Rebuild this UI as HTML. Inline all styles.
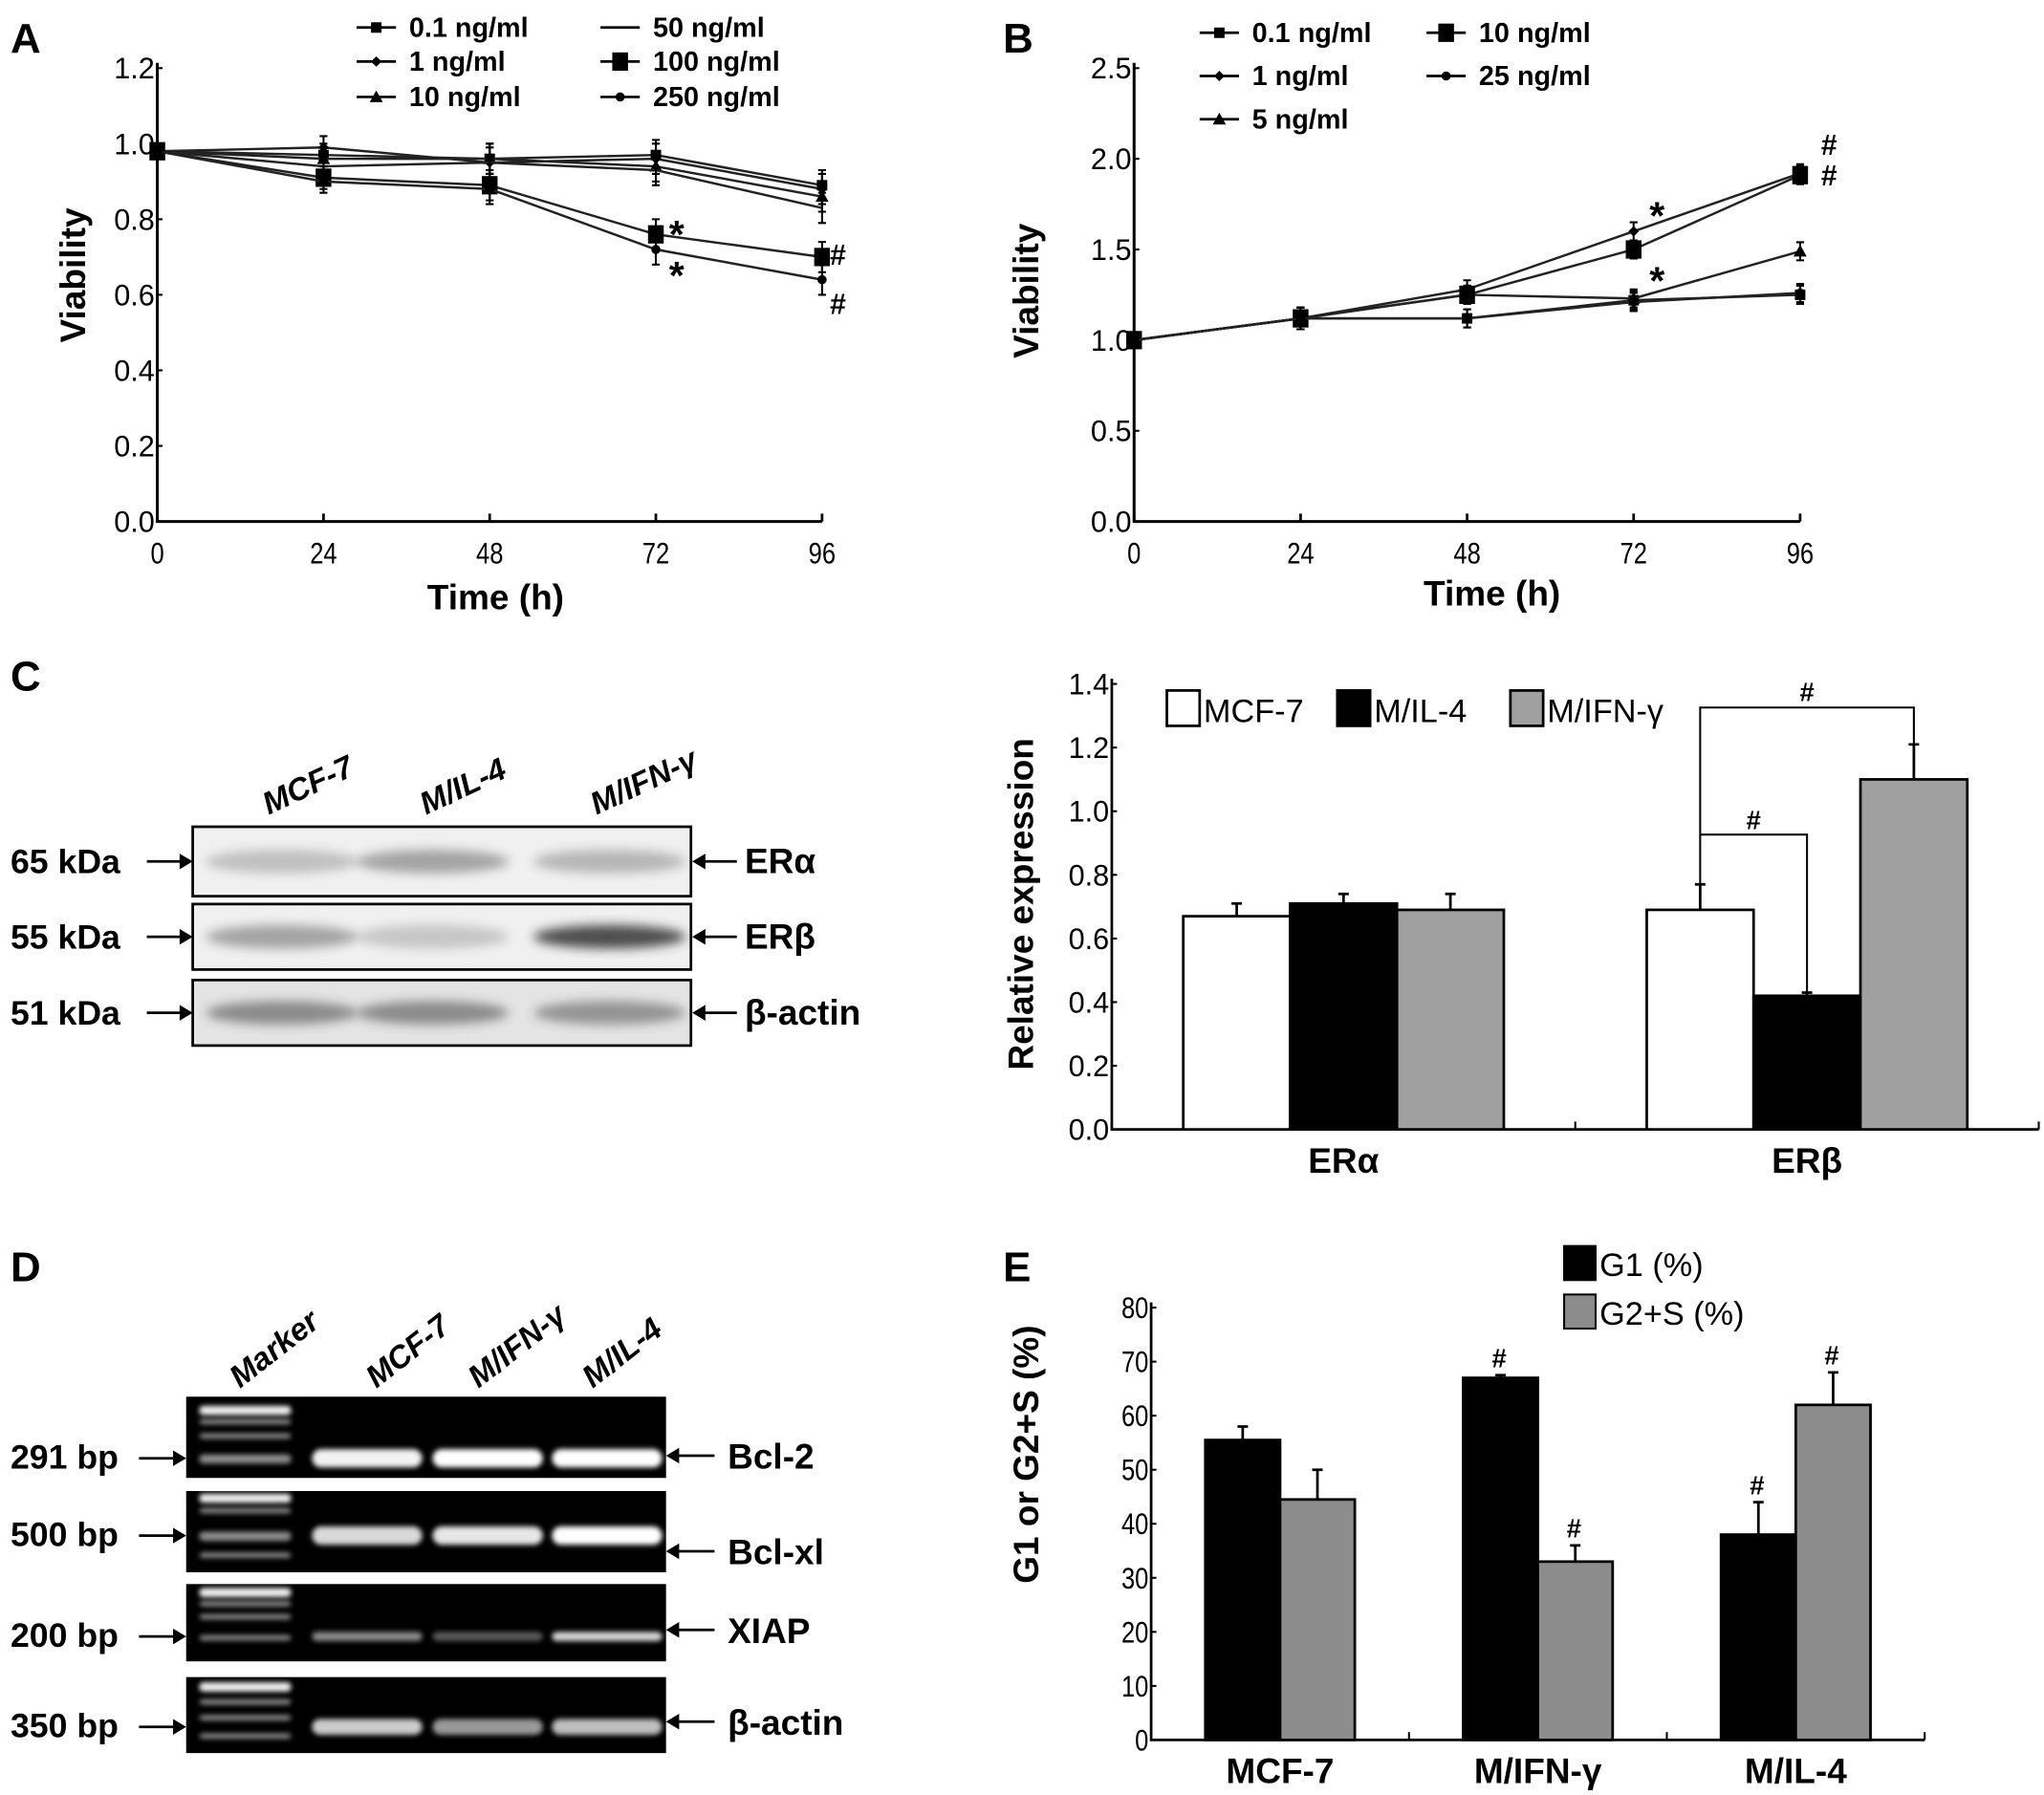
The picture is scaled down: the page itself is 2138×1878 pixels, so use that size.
<!DOCTYPE html>
<html><head><meta charset="utf-8"><style>
html,body{margin:0;padding:0;background:#fff}
svg{display:block}
text{font-family:"Liberation Sans",sans-serif;fill:#000}
.b{font-weight:bold}
</style></head><body>
<svg id="fig" width="2138" height="1878" viewBox="0 0 1559 1370" preserveAspectRatio="none" xmlns="http://www.w3.org/2000/svg">
<defs>
<filter id="blur3" x="-20%" y="-100%" width="140%" height="300%"><feGaussianBlur stdDeviation="4"/></filter>
<filter id="blur2" x="-20%" y="-100%" width="140%" height="300%"><feGaussianBlur stdDeviation="2"/></filter>
</defs>
<g id="gA"></g>
<g id="gB"></g>
<g id="gC"></g>
<g id="gC2"></g>
<g id="gD"></g>
<g id="gE"></g>
</svg>
<script>
// ---------- Panel A data ----------
const aTimes = [0, 24, 48, 72, 96];
const aYTicks = [0, 0.2, 0.4, 0.6, 0.8, 1.0, 1.2];
const aLabels = ["0.1 ng/ml", "1 ng/ml", "10 ng/ml", "50 ng/ml", "100 ng/ml", "250 ng/ml"];
const aS01 = [0.98, 0.97, 0.96, 0.97, 0.89];
const aS1 = [0.98, 0.99, 0.95, 0.96, 0.88];
const aS10 = [0.98, 0.96, 0.96, 0.94, 0.86];
const aS50 = [0.98, 0.94, 0.95, 0.93, 0.83];
const aS100 = [0.98, 0.91, 0.89, 0.76, 0.70];
const aS250 = [0.98, 0.90, 0.88, 0.72, 0.64];
const aErr = [0.02, 0.03, 0.04, 0.04, 0.04];
// ---------- Panel B data ----------
const bTimes = [0, 24, 48, 72, 96];
const bYTicks = [0, 0.5, 1.0, 1.5, 2.0, 2.5];
const bLabels = ["0.1 ng/ml", "1 ng/ml", "5 ng/ml", "10 ng/ml", "25 ng/ml"];
const bS01 = [1.0, 1.12, 1.12, 1.22, 1.25];
const bS1 = [1.0, 1.12, 1.28, 1.60, 1.92];
const bS5 = [1.0, 1.12, 1.25, 1.23, 1.49];
const bS10 = [1.0, 1.12, 1.25, 1.50, 1.91];
const bS25 = [1.0, 1.12, 1.12, 1.21, 1.26];
const bErr = [0.03, 0.06, 0.05, 0.05, 0.05];
// ---------- Panel C bar data ----------
const cGroups = ["ERα", "ERβ"];
const cSeries = ["MCF-7", "M/IL-4", "M/IFN-γ"];
const cYTicks = [0, 0.2, 0.4, 0.6, 0.8, 1.0, 1.2, 1.4];
const cMCF7 = [0.67, 0.69];
const cIL4 = [0.71, 0.42];
const cIFN = [0.69, 1.10];
const cMCF7Err = [0.04, 0.08];
const cIL4Err = [0.03, 0.01];
const cIFNErr = [0.05, 0.11];
// ---------- Panel E bar data ----------
const eGroups = ["MCF-7", "M/IFN-γ", "M/IL-4"];
const eYTicks = [0, 10, 20, 30, 40, 50, 60, 70, 80];
const eG1 = [55.5, 67, 38];
const eG2S = [44.5, 33, 62];
const eG1Err = [2.5, 0.5, 6];
const eG2SErr = [5.5, 3, 6];

const NS = "http://www.w3.org/2000/svg";
function el(parent, tag, attrs, txt) {
  const e = document.createElementNS(NS, tag);
  for (const k in attrs) e.setAttribute(k, attrs[k]);
  if (txt !== undefined) e.textContent = txt;
  parent.appendChild(e);
  return e;
}
function tickText(g, x, y, s, anchor, size) {
  const w = s.length * size * 0.45;
  const t = el(g, "text", {x: x, y: y, "font-size": size, "text-anchor": anchor || "end", textLength: w, lengthAdjust: "spacingAndGlyphs", "font-family": "Liberation Sans"}, s);
  
  
  return t;
}
function marker(g, type, x, y) {
  let m;
  if (type === "sq") m = el(g, "rect", {x: x - 4, y: y - 4, width: 8, height: 8, fill: "#000"});
  else if (type === "bigsq") m = el(g, "rect", {x: x - 6, y: y - 7, width: 12, height: 14, fill: "#000"});
  else if (type === "dia") m = el(g, "polygon", {points: `${x},${y-4} ${x+4},${y} ${x},${y+4} ${x-4},${y}`, fill: "#000"});
  else if (type === "tri") m = el(g, "polygon", {points: `${x},${y-5} ${x+5},${y+4} ${x-5},${y+4}`, fill: "#000"});
  else if (type === "circ") m = el(g, "circle", {cx: x, cy: y, r: 3.5, fill: "#000"});
  else return;
  
  
}

function lineChart(g, cfg) {
  const xS = v => cfg.x0 + (v - cfg.xmin) / (cfg.xmax - cfg.xmin) * (cfg.x1 - cfg.x0);
  const yS = v => cfg.y0 - (v - cfg.ymin) / (cfg.ymax - cfg.ymin) * (cfg.y0 - cfg.y1);
  const ax = el(g, "path", {d: `M${cfg.x0},${cfg.y1 - 4} V${cfg.y0} H${cfg.x1}`, stroke: "#000", "stroke-width": 2.2, fill: "none"});
  
  
  cfg.yticks.forEach(v => {
    el(g, "line", {x1: cfg.x0, x2: cfg.x0 + 4, y1: yS(v), y2: yS(v), stroke: "#000", "stroke-width": 1.5});
    tickText(g, cfg.x0 - 2, yS(v) + 8, v.toFixed(1), "end", 23);
  });
  cfg.times.forEach(v => {
    el(g, "line", {x1: xS(v), x2: xS(v), y1: cfg.y0, y2: cfg.y0 - 6, stroke: "#000", "stroke-width": 2});
    tickText(g, xS(v), cfg.y0 + 32, String(v), "middle", 23);
  });
  cfg.series.forEach((s, i) => {
    const sg = el(g, "g", {});
    
    
    const pts = s.map((v, k) => `${xS(cfg.times[k])},${yS(v)}`).join(" ");
    el(sg, "polyline", {points: pts, fill: "none", stroke: "#222", "stroke-width": 1.8});
    s.forEach((v, k) => {
      const x = xS(cfg.times[k]);
      const e = cfg.err[k];
      el(sg, "path", {d: `M${x},${yS(v - e)} V${yS(v + e)} M${x - 3},${yS(v - e)} H${x + 3} M${x - 3},${yS(v + e)} H${x + 3}`, stroke: "#000", "stroke-width": 1.5, fill: "none"});
      marker(sg, cfg.markers[i], x, yS(v));
    });
  });
  return {xS, yS};
}
function legendEntry(g, x, y, type, label) {
  const lg = el(g, "g", {});
  
  
  el(lg, "line", {x1: x, x2: x + 30, y1: y, y2: y, stroke: "#000", "stroke-width": 2});
  marker(lg, type, x + 15, y);
  el(lg, "text", {x: x + 40, y: y + 7, "font-size": 21, class: "b"}, label);
}
function panelLabel(g, x, y, s) {
  const t = el(g, "text", {x: x, y: y, "font-size": 32, class: "b"}, s);
  
  
}
function axisTitle(g, x, y, s, rot, size) {
  const t = el(g, "text", {x: x, y: y, "font-size": size || 27, class: "b", "text-anchor": "middle", transform: rot ? `rotate(-90 ${x} ${y})` : ""}, s);
  
  
}

// Panel A
const gA = document.getElementById("gA");
panelLabel(gA, 8, 40, "A");
const A = lineChart(gA, {x0: 120, x1: 627, y0: 398, y1: 52, xmin: 0, xmax: 96, ymin: 0, ymax: 1.2,
  times: aTimes, yticks: aYTicks, series: [aS01, aS1, aS10, aS50, aS100, aS250], err: aErr,
  labels: aLabels, markers: ["sq", "dia", "tri", "none", "bigsq", "circ"]});
axisTitle(gA, 65, 210, "Viability", true);
axisTitle(gA, 378, 465, "Time (h)", false);
legendEntry(gA, 272, 21, "sq", aLabels[0]);
legendEntry(gA, 272, 47, "dia", aLabels[1]);
legendEntry(gA, 272, 74, "tri", aLabels[2]);
legendEntry(gA, 458, 21, "none", aLabels[3]);
legendEntry(gA, 458, 47, "bigsq", aLabels[4]);
legendEntry(gA, 458, 74, "circ", aLabels[5]);
[["*", A.xS(72) + 10, A.yS(aS100[3]) + 10, 30], ["*", A.xS(72) + 10, A.yS(aS250[3]) + 30, 30], ["#", A.xS(96) + 6, A.yS(aS100[4]) + 6, 22], ["#", A.xS(96) + 6, A.yS(aS250[4]) + 26, 22]]
  .forEach(a => el(gA, "text", {x: a[1], y: a[2], "font-size": a[3], class: "b"}, a[0]));

// Panel B
const gB = document.getElementById("gB");
panelLabel(gB, 765, 40, "B");
const B = lineChart(gB, {x0: 865, x1: 1373, y0: 398, y1: 52, xmin: 0, xmax: 96, ymin: 0, ymax: 2.5,
  times: bTimes, yticks: bYTicks, series: [bS01, bS1, bS5, bS10, bS25], err: bErr,
  labels: bLabels, markers: ["sq", "dia", "tri", "bigsq", "circ"]});
axisTitle(gB, 792, 222, "Viability", true);
axisTitle(gB, 1138, 462, "Time (h)", false);
legendEntry(gB, 915, 25, "sq", bLabels[0]);
legendEntry(gB, 915, 58, "dia", bLabels[1]);
legendEntry(gB, 915, 91, "tri", bLabels[2]);
legendEntry(gB, 1088, 25, "bigsq", bLabels[3]);
legendEntry(gB, 1088, 58, "circ", bLabels[4]);
[["*", B.xS(72) + 12, B.yS(bS1[3]) - 2, 30], ["*", B.xS(72) + 12, B.yS(bS10[3]) + 34, 30], ["#", B.xS(96) + 16, B.yS(bS1[4]) - 14, 22], ["#", B.xS(96) + 16, B.yS(bS10[4]) + 8, 22]]
  .forEach(a => el(gB, "text", {x: a[1], y: a[2], "font-size": a[3], class: "b"}, a[0]));

// Panel C blot
const gC = document.getElementById("gC");
panelLabel(gC, 8, 527, "C");
[["MCF-7", 205], ["M/IL-4", 325], ["M/IFN-γ", 455]].forEach(l => {
  const t = el(gC, "text", {x: l[1], y: 622, "font-size": 24, class: "b", transform: `rotate(-25 ${l[1]} 622)`, "font-style": "italic"}, l[0]);
  
  
});
const blotRows = [
  {y: 631, h: 53, kda: "65 kDa", name: "ERα", bands: [[215, 0.25], [330, 0.4], [465, 0.3]]},
  {y: 690, h: 50, kda: "55 kDa", name: "ERβ", bands: [[215, 0.4], [330, 0.22], [465, 0.85]]},
  {y: 748, h: 50, kda: "51 kDa", name: "β-actin", bands: [[215, 0.5], [330, 0.5], [465, 0.45]]}
];
blotRows.forEach(r => {
  const rg = el(gC, "g", {});
  
  
  el(rg, "rect", {x: 147, y: r.y, width: 380, height: r.h, fill: r.name === "β-actin" ? "#e4e4e4" : "#f0f0f0", stroke: "#000", "stroke-width": 2});
  r.bands.forEach(b => el(rg, "ellipse", {cx: b[0], cy: r.y + r.h / 2, rx: 58, ry: 9, fill: "#333", opacity: b[1], filter: "url(#blur3)"}));
  el(rg, "text", {x: 8, y: r.y + r.h / 2 + 9, "font-size": 26, class: "b"}, r.kda);
  el(rg, "path", {d: `M112,${r.y + r.h / 2} H140`, stroke: "#000", "stroke-width": 2});
  el(rg, "polygon", {points: `147,${r.y + r.h / 2} 137,${r.y + r.h / 2 - 6} 137,${r.y + r.h / 2 + 6}`, fill: "#000"});
  el(rg, "path", {d: `M535,${r.y + r.h / 2} H562`, stroke: "#000", "stroke-width": 2});
  el(rg, "polygon", {points: `528,${r.y + r.h / 2} 538,${r.y + r.h / 2 - 6} 538,${r.y + r.h / 2 + 6}`, fill: "#000"});
  el(rg, "text", {x: 568, y: r.y + r.h / 2 + 9, "font-size": 27, class: "b"}, r.name);
});

function barChart(g, cfg) {
  const yS = v => cfg.y0 - (v - cfg.ymin) / (cfg.ymax - cfg.ymin) * (cfg.y0 - cfg.y1);
  const ax = el(g, "path", {d: `M${cfg.x0},${cfg.y1 - 4} V${cfg.y0} H${cfg.x1}`, stroke: "#000", "stroke-width": 2, fill: "none"});
  
  
  cfg.yticks.forEach(v => {
    el(g, "line", {x1: cfg.x0, x2: cfg.x0 + 4, y1: yS(v), y2: yS(v), stroke: "#000", "stroke-width": 1.5});
    tickText(g, cfg.x0 - 2, yS(v) + 8, cfg.fmt(v), "end", 23);
  });
  const gw = (cfg.x1 - cfg.x0) / cfg.groups.length;
  for (let k = 1; k <= cfg.groups.length; k++) el(g, "line", {x1: cfg.x0 + gw * k, x2: cfg.x0 + gw * k, y1: cfg.y0, y2: cfg.y0 - 6, stroke: "#000", "stroke-width": 1.5});
  const pos = [];
  cfg.groups.forEach((name, gi) => {
    const cx = cfg.x0 + gw * (gi + 0.5);
    const n = cfg.series.length;
    const left = cx - n * cfg.bw / 2;
    pos.push([]);
    cfg.series.forEach((s, si) => {
      const x = left + si * cfg.bw;
      const v = s[gi], e = cfg.errs[si][gi];
      const r = el(g, "rect", {x: x, y: yS(v), width: cfg.bw, height: cfg.y0 - yS(v), fill: cfg.fills[si], stroke: "#000", "stroke-width": 2});
      
      
      const ex = x + cfg.bw / 2 + cfg.errOff;
      el(g, "path", {d: `M${ex},${yS(v)} V${yS(v + e)} M${ex - 4},${yS(v + e)} H${ex + 4}`, stroke: "#000", "stroke-width": 2, fill: "none"});
      pos[gi].push({x: ex, top: yS(v + e)});
    });
    const t = el(g, "text", {x: cx, y: cfg.y0 + 33, "font-size": 27, class: "b", "text-anchor": "middle"}, name);
    
    
  });
  return {yS, pos};
}

// Panel C bar
const gC2 = document.getElementById("gC2");
const C = barChart(gC2, {x0: 848, x1: 1555, y0: 862, y1: 522, ymin: 0, ymax: 1.4, yticks: cYTicks, fmt: v => v.toFixed(1),
  groups: cGroups, series: [cMCF7, cIL4, cIFN], errs: [cMCF7Err, cIL4Err, cIFNErr], names: cSeries,
  fills: ["#fff", "#000", "#a0a0a0"], bw: 81.5, errOff: 0});
axisTitle(gC2, 788, 690, "Relative expression", true, 27);
[[890, "#fff"], [1020, "#000"], [1152, "#a0a0a0"]].forEach((l, i) => {
  const lg = el(gC2, "g", {});
  
  
  el(lg, "rect", {x: l[0], y: 527, width: 25, height: 27, fill: l[1], stroke: "#000", "stroke-width": 2});
  el(lg, "text", {x: l[0] + 28, y: 551, "font-size": 25}, cSeries[i]);
});
{
  const p = C.pos[1];
  const ya = 637, yb = 540;
  el(gC2, "path", {d: `M${p[0].x},${p[0].top} V${yb} H${p[2].x} V${p[2].top}`, stroke: "#000", "stroke-width": 1.5, fill: "none"});
  el(gC2, "path", {d: `M${p[0].x},${ya} H${p[1].x} V${p[1].top}`, stroke: "#000", "stroke-width": 1.5, fill: "none"});
  el(gC2, "text", {x: (p[0].x + p[1].x) / 2, y: ya - 4, "font-size": 20, "text-anchor": "middle", class: "b"}, "#");
  el(gC2, "text", {x: (p[0].x + p[2].x) / 2, y: yb - 5, "font-size": 20, "text-anchor": "middle", class: "b"}, "#");
}

// Panel D gel
const gD = document.getElementById("gD");
panelLabel(gD, 8, 978, "D");
[["Marker", 183], ["MCF-7", 287], ["M/IFN-γ", 365], ["M/IL-4", 452]].forEach(l => {
  const t = el(gD, "text", {x: l[1], y: 1060, "font-size": 24, class: "b", "font-style": "italic", transform: `rotate(-38 ${l[1]} 1060)`}, l[0]);
  
  
});
const gelRows = [
  {y: 1066, h: 62, bp: "291 bp", name: "Bcl-2", band: 1113, bh: 14, arrowY: 1111, ints: [0.95, 1, 1], mk: [1076, 1086, 1097, 1113]},
  {y: 1138, h: 62, bp: "500 bp", name: "Bcl-xl", band: 1172, bh: 14, arrowY: 1184, ints: [0.85, 0.9, 1], mk: [1143, 1154, 1172, 1188]},
  {y: 1209, h: 59, bp: "200 bp", name: "XIAP", band: 1249, bh: 7, arrowY: 1244, ints: [0.55, 0.35, 0.85], mk: [1215, 1225, 1235, 1251]},
  {y: 1280, h: 58, bp: "350 bp", name: "β-actin", band: 1318, bh: 12, arrowY: 1314, ints: [0.8, 0.6, 0.75], mk: [1287, 1300, 1312, 1326]}
];
gelRows.forEach(r => {
  const rg = el(gD, "g", {});
  
  
  el(rg, "rect", {x: 142, y: r.y, width: 366, height: r.h, fill: "#000"});
  r.mk.forEach((y, i) => el(rg, "rect", {x: 152, y: y - 3, width: 70, height: i === 0 || y === r.band ? 7 : 4, rx: 3, fill: "#fff", opacity: i === 0 ? 0.95 : 0.55, filter: "url(#blur2)"}));
  [280, 372, 463].forEach((cx, i) => el(rg, "rect", {x: cx - 42, y: r.band - r.bh / 2, width: 84, height: r.bh, rx: r.bh / 2, fill: "#fff", opacity: r.ints[i], filter: "url(#blur2)"}));
  el(rg, "text", {x: 8, y: r.band + 8, "font-size": 26, class: "b"}, r.bp);
  el(rg, "path", {d: `M106,${r.band} H134`, stroke: "#000", "stroke-width": 2});
  el(rg, "polygon", {points: `142,${r.band} 132,${r.band - 6} 132,${r.band + 6}`, fill: "#000"});
  el(rg, "path", {d: `M516,${r.arrowY} H545`, stroke: "#000", "stroke-width": 2});
  el(rg, "polygon", {points: `508,${r.arrowY} 518,${r.arrowY - 6} 518,${r.arrowY + 6}`, fill: "#000"});
  el(rg, "text", {x: 555, y: r.arrowY + 10, "font-size": 27, class: "b"}, r.name);
});

// Panel E
const gE = document.getElementById("gE");
panelLabel(gE, 765, 978, "E");
const E = barChart(gE, {x0: 878, x1: 1468, y0: 1328, y1: 998, ymin: 0, ymax: 80, yticks: eYTicks, fmt: v => String(v),
  groups: eGroups, series: [eG1, eG2S], errs: [eG1Err, eG2SErr], names: ["G1", "G2+S"],
  fills: ["#000", "#8c8c8c"], bw: 57, errOff: 0});
axisTitle(gE, 792, 1110, "G1 or G2+S (%)", true, 27);
[[1193, 951, "#000", "G1 (%)"], [1193, 988, "#8c8c8c", "G2+S (%)"]].forEach(l => {
  const lg = el(gE, "g", {});
  
  
  el(lg, "rect", {x: l[0], y: l[1], width: 24, height: 26, fill: l[2], stroke: "#000", "stroke-width": 1.5});
  el(lg, "text", {x: l[0] + 27, y: l[1] + 23, "font-size": 25}, l[3]);
});
[[1, 0], [1, 1], [2, 0], [2, 1]].forEach(a => {
  const p = E.pos[a[0]][a[1]];
  el(gE, "text", {x: p.x - 1, y: p.top - 6, "font-size": 20, "text-anchor": "middle", class: "b"}, "#");
});
</script>
</body></html>
